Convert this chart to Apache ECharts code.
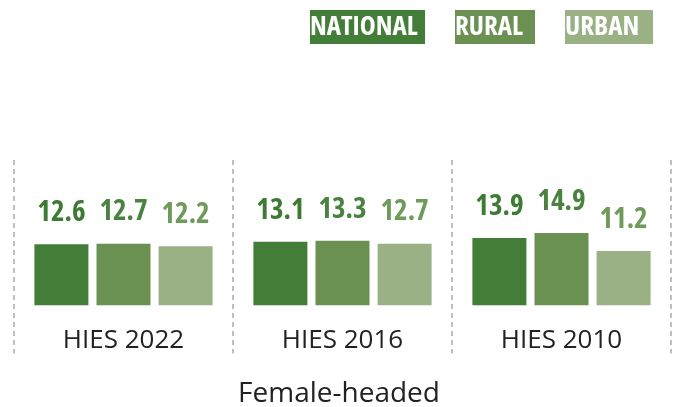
<!DOCTYPE html>
<html>
<head>
<meta charset="utf-8">
<script src="https://cdn.jsdelivr.net/npm/echarts@6/dist/echarts.min.js"></script>
<style>
  html, body { margin: 0; padding: 0; background: #fff; }
  #chart { width: 678px; height: 407px; }
</style>
</head>
<body>
<div id="chart"></div>
<script>
var categories = ['HIES 2022', 'HIES 2016', 'HIES 2010'];
var legendNames = ['NATIONAL', 'RURAL', 'URBAN'];
var national = [12.6, 13.1, 13.9];
var rural = [12.7, 13.3, 14.9];
var urban = [12.2, 12.7, 11.2];

var barColors = ['#427e37', '#6a9152', '#99b185'];
var labelColors = ['#3d7a33', '#4a8240', '#6e9a5a'];

// find a condensed bold face among the installed fonts
function pickCondensed() {
    var ctx = document.createElement('canvas').getContext('2d');
    var sample = 'NATIONAL 12.6';
    function measure(font) {
        ctx.font = '10px monospace';
        ctx.font = font;
        return ctx.measureText(sample).width;
    }
    var mono = measure('bold 100px monospace');
    var cands = [];
    ['"Liberation Sans Narrow"', '"DejaVu Sans Condensed"', '"Roboto Condensed"',
     '"Noto Sans Condensed"', '"Noto Sans SemiCondensed"', '"Noto Sans ExtraCondensed"',
     '"Open Sans Condensed"'].forEach(function (f) {
        var w = measure('bold 100px ' + f + ', monospace');
        if (Math.abs(w - mono) > 0.5) cands.push({ w: 'bold', f: f, width: w });
    });
    ['"Noto Sans"', '"Open Sans"', '"DejaVu Sans"', 'Roboto', '"Liberation Sans"'].forEach(function (f) {
        var base = measure('bold 100px ' + f);
        ['condensed', 'semi-condensed', 'extra-condensed'].forEach(function (s) {
            var w = measure('bold ' + s + ' 100px ' + f);
            if (w < base - 1) cands.push({ w: 'bold ' + s, f: f, width: w });
        });
    });
    var target = 4.3; // width per em of the sample in the original face
    var best = { w: 'bold', f: '"Liberation Sans"', width: measure('bold 100px "Liberation Sans"') };
    cands.forEach(function (c) {
        if (Math.abs(c.width / 100 - target) < Math.abs(best.width / 100 - target)) best = c;
    });
    return best;
}
var cond = pickCondensed();

function makeSeries(name, data, i) {
    return {
        name: name,
        type: 'bar',
        data: data,
        barWidth: 54,
        barGap: '15%',
        itemStyle: { color: barColors[i] },
        label: {
            show: true,
            position: 'top',
            distance: 17,
            color: labelColors[i],
            fontFamily: cond.f,
            fontWeight: cond.w,
            fontSize: 29
        },
        emphasis: { disabled: true }
    };
}

var myChart = echarts.init(document.getElementById('chart'));

var option = {
    animation: false,
    title: {
        text: 'Female-headed',
        left: 'center',
        top: 375,
        textStyle: { fontFamily: '"Open Sans"', fontWeight: 'normal', fontSize: 28, color: '#222' }
    },
    legend: {
        right: 25,
        top: 10,
        padding: 0,
        icon: 'none',
        itemWidth: 0,
        itemGap: 25,
        selectedMode: false,
        textStyle: {
            color: '#fff',
            fontFamily: cond.f,
            fontWeight: cond.w,
            fontSize: 27,
            lineHeight: 26,
            padding: [4, 0],
            align: 'center'
        },
        data: [
            { name: legendNames[0], textStyle: { backgroundColor: barColors[0], width: 115 } },
            { name: legendNames[1], textStyle: { backgroundColor: barColors[1], width: 80 } },
            { name: legendNames[2], textStyle: { backgroundColor: barColors[2], width: 88 } }
        ]
    },
    grid: { left: 14, right: 7, top: 160, bottom: 53.4 },
    xAxis: {
        type: 'category',
        data: categories,
        offset: -47.6,
        axisLine: { show: false, onZero: false },
        axisTick: { show: false },
        axisLabel: { margin: 22, fontFamily: '"Open Sans"', fontSize: 26, color: '#222' },
        splitLine: {
            show: true,
            lineStyle: { color: '#aaa', type: [5, 4], width: 1.5 }
        }
    },
    yAxis: {
        type: 'value',
        min: -10,
        max: 30,
        axisLine: { show: false },
        axisTick: { show: false },
        axisLabel: { show: false },
        splitLine: { show: false }
    },
    series: [
        makeSeries(legendNames[0], national, 0),
        makeSeries(legendNames[1], rural, 1),
        makeSeries(legendNames[2], urban, 2)
    ]
};

myChart.setOption(option);
</script>
</body>
</html>
